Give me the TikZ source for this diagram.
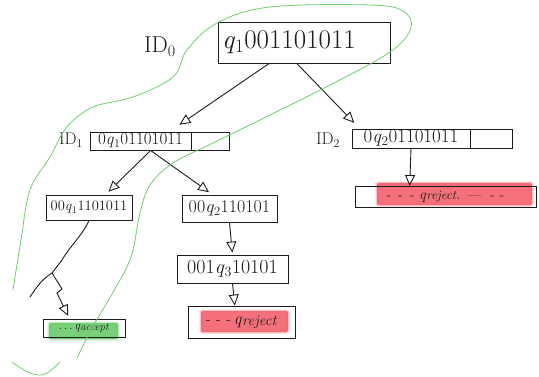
\documentclass[tikz,border=0pt]{standalone}
\usetikzlibrary{arrows.meta}
\definecolor{ink}{RGB}{28,28,28}
\definecolor{loopgreen}{RGB}{112,206,112}
\definecolor{hlred}{RGB}{242,88,100}
\definecolor{hlgreen}{RGB}{98,198,98}
\newcommand\fsz[1]{\fontsize{#1}{#1}\selectfont}
\newcommand\st[1]{\textit{q}\textsubscript{#1}}
% halting state name: q followed by a slightly smaller, lowered word
\newcommand\haltst[2]{{\fsz{#1}\textit{q}}\raisebox{-0.15ex}{\fsz{#2}\textit{reject}}}
\newcommand\accst[2]{{\fsz{#1}\textit{q}}\raisebox{-0.15ex}{\fsz{#2}\textit{accept}}}
\begin{document}
\begin{tikzpicture}[x=1pt,y=-1pt,
  cell/.style={draw=ink, line width=0.9pt, rectangle, inner sep=0pt, text=ink},
  idlabel/.style={inner sep=0pt, text=ink},
  arr/.style={draw=ink, line width=0.9pt, -{Triangle[open,length=11pt,width=10pt,line width=0.9pt]}},
  link/.style={draw=ink, line width=0.9pt},
  highlight/.style={fill=#1, draw=#1, draw opacity=0.35, line width=3pt, fill opacity=0.85, rounded corners=2pt},
  greenloop/.style={draw=loopgreen, line width=0.8pt}
]
\useasboundingbox (0,0) rectangle (539,376);

% highlighter strokes behind the final configurations
\path[highlight=hlred]   (377,183) rectangle (532,205);
\path[highlight=hlred]   (201,311) rectangle (288,332);
\path[highlight=hlgreen] (49,323) rectangle (118,339);

% root configuration
\node[idlabel] (id0lbl) at (160,47) {\fsz{23}ID\textsubscript{0}};
\node[cell, minimum width=172pt, minimum height=41pt] (id0) at (304,42.5)
  {\makebox[164pt][l]{\fsz{27}\st{1}001101011}};

% first level
\node[idlabel] (id1lbl) at (71,140) {\fsz{17}ID\textsubscript{1}};
\node[cell, minimum width=101pt, minimum height=18pt] (id1) at (140.5,141)
  {\fsz{17}0\st{1}01101011};
\node[cell, minimum width=38pt, minimum height=18pt, anchor=west] (id1r) at (id1.east) {};

\node[idlabel] (id2lbl) at (328,140) {\fsz{17}ID\textsubscript{2}};
\node[cell, minimum width=118pt, minimum height=19pt] (id2) at (411,138.5)
  {\fsz{19}0\st{2}01101011};
\node[cell, minimum width=42pt, minimum height=19pt, anchor=west] (id2r) at (id2.east) {};

% second level
\node[cell, minimum width=86pt, minimum height=25pt] (c1) at (89,207.5)
  {\fsz{14.5}00\st{1}1101011};
\node[cell, minimum width=95pt, minimum height=27pt] (c2) at (229.5,208.5)
  {\fsz{18}00\st{2}110101};
\node[cell, minimum width=111pt, minimum height=28pt] (c3) at (232.5,269)
  {\fsz{20}001\st{3}10101};

% halting configurations
\node[cell, minimum width=181pt, minimum height=21pt] (rej1) at (445.5,197)
  {\fsz{14}-\,\,\,-\,\,\,-\,\,\haltst{15}{13}.\,\,\,---\,\,\,\,-\,\,-};
\node[cell, minimum width=107pt, minimum height=32pt] (rej2) at (241.5,322)
  {\fsz{16}-\,\,-\,\,-\,\haltst{17}{15}};
\node[cell, minimum width=82pt, minimum height=18pt] (acc) at (84,328)
  {\fsz{12}.\,.\,.\,\accst{12}{11}};

% transitions
\draw[arr, shorten >=12pt] (id0.211) -- (id1.18);
\draw[arr, shorten >=8pt]  (id0.251) -- (id2.169);
\draw[arr, shorten >=4pt]  (id1.-43) -- (c1.38);
\draw[arr, shorten >=4pt]  (id1.-43) .. controls (175,168) and (195,182) .. (c2.141);
\draw[arr, shorten >=2pt]  (c2.south) -- (c3.north);
\draw[arr]                 (c3.south) -- (rej2.112);
\draw[arr]                 (id2.south) -- (rej1.163);

% winding path down to the accepting configuration
\coordinate (fork) at (52,273);
\coordinate (stub) at (30,297);
\draw[link] (c1.south) .. controls (82,236) and (70,246) .. (62,260) -- (fork);
\draw[link] (fork) .. controls (42,279) and (36,288) .. (stub);
\draw[arr, shorten >=3pt] (fork) -- (62,289) -- (57,293) -- (acc.147);

% loop around the accepting branch
\draw[greenloop] plot[smooth, tension=0.6] coordinates {
  (13,290) (21,240) (30,190) (50,157) (67,127) (93,107) (133,97) (173,77)
  (187,50) (217,23) (270,7) (370,5) (403,11) (411,28) (390,52) (330,85)
  (270,115) (213,143) (173,163) (150,185) (140,213) (131,257) (112,294)
  (92,328) (77,358)};
\draw[greenloop] plot[smooth, tension=0.6] coordinates {
  (12,362) (30,373) (45,374) (60,362)};
\end{tikzpicture}
\end{document}
